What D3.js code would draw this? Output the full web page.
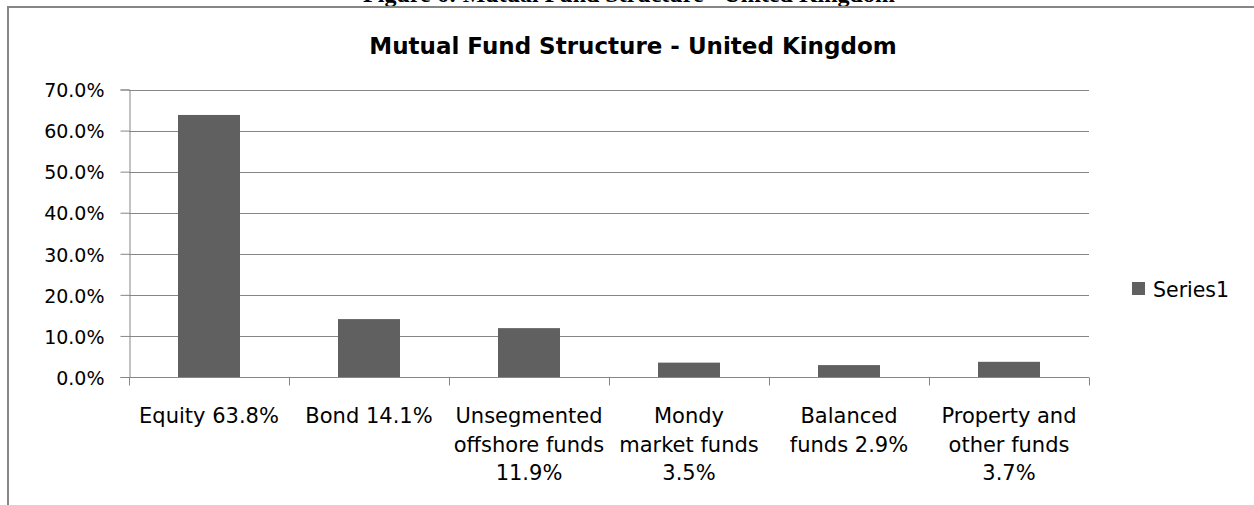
<!DOCTYPE html>
<html>
<head>
<meta charset="utf-8">
<script src="https://cdn.jsdelivr.net/npm/d3@7"></script>
<style>
html,body{margin:0;padding:0;background:#fff;}
svg{display:block;}
</style>
</head>
<body>
<svg id="chart" width="1254" height="505"></svg>
<script>
const caption = "Figure 6: Mutual Fund Structure - United Kingdom";
const chartTitle = "Mutual Fund Structure - United Kingdom";
const seriesName = "Series1";
const categories = ["Equity", "Bond", "Unsegmented", "Mondy", "Balanced", "Property"];
const categoryLabels = [
  ["Equity 63.8%"],
  ["Bond 14.1%"],
  ["Unsegmented", "offshore funds", "11.9%"],
  ["Mondy", "market funds", "3.5%"],
  ["Balanced", "funds 2.9%"],
  ["Property and", "other funds", "3.7%"]
];
const values = [63.8, 14.1, 11.9, 3.5, 2.9, 3.7];
const yTicks = [0, 10, 20, 30, 40, 50, 60, 70];

const svg = d3.select("#chart");
const font = "'DejaVu Sans', sans-serif";
const plot = {left: 129, right: 1089, top: 89.5, bottom: 377};

// caption (cut off at top, as in the source)
svg.append("text")
  .attr("x", 629).attr("y", 1.5)
  .attr("text-anchor", "middle")
  .style("font-family", "'Liberation Serif', 'Times New Roman', serif")
  .style("font-weight", "bold")
  .style("font-size", "24px")
  .attr("fill", "#000")
  .text(caption);

// chart frame
svg.append("rect")
  .attr("x", 8).attr("y", 7)
  .attr("width", 1300).attr("height", 600)
  .attr("fill", "none")
  .attr("stroke", "#868686")
  .attr("stroke-width", 2);

// title
svg.append("text")
  .attr("x", 633).attr("y", 54)
  .attr("text-anchor", "middle")
  .style("font-family", font)
  .style("font-weight", "bold")
  .style("font-size", "23px")
  .attr("fill", "#000")
  .text(chartTitle);

const x = d3.scaleBand().domain(categories).range([plot.left, plot.right]).paddingInner(0.6125).paddingOuter(0.30625);
const xb = d3.scaleBand().domain(categories).range([plot.left, plot.right]);
const y = d3.scaleLinear().domain([0, 70]).range([plot.bottom, plot.top]);

// gridlines
svg.append("g").selectAll("line").data(yTicks.filter(d => d > 0)).join("line")
  .attr("x1", plot.left).attr("x2", plot.right)
  .attr("y1", d => Math.round(y(d)) + 0.5).attr("y2", d => Math.round(y(d)) + 0.5)
  .attr("stroke", "#868686").attr("stroke-width", 1);

// y axis
const yAxis = svg.append("g")
  .attr("transform", `translate(${plot.left + 0.5},0)`)
  .call(d3.axisLeft(y).tickValues(yTicks).tickSize(9).tickPadding(16)
    .tickFormat(d => d3.format(".1f")(d) + "%"));
yAxis.attr("font-size", null).attr("font-family", null);
yAxis.select(".domain").attr("stroke", "#868686");
yAxis.selectAll(".tick line").attr("stroke", "#868686");
yAxis.selectAll(".tick text")
  .style("font-family", font).style("font-size", "19px").attr("fill", "#000")
  .attr("dy", "0.38em");

// bars
svg.append("g").selectAll("rect").data(values).join("rect")
  .attr("x", (d, i) => x(categories[i]))
  .attr("width", x.bandwidth())
  .attr("y", d => y(d))
  .attr("height", d => y(0) - y(d))
  .attr("fill", "#606060");

// x axis
const xAxisG = svg.append("g").attr("transform", `translate(0,${Math.round(plot.bottom) + 0.5})`);
xAxisG.append("line")
  .attr("x1", plot.left).attr("x2", plot.right)
  .attr("stroke", "#868686");
const bounds = categories.map(c => xb(c)).concat([plot.right]);
xAxisG.selectAll("line.tk").data(bounds).join("line").attr("class", "tk")
  .attr("x1", d => Math.round(d) + 0.5).attr("x2", d => Math.round(d) + 0.5)
  .attr("y1", 0).attr("y2", 8)
  .attr("stroke", "#868686");

// category labels
const lab = svg.append("g");
categoryLabels.forEach((lines, i) => {
  const cx = xb(categories[i]) + xb.bandwidth() / 2;
  const t = lab.append("text")
    .attr("text-anchor", "middle")
    .style("font-family", font).style("font-size", "21px").attr("fill", "#000");
  lines.forEach((ln, j) => {
    t.append("tspan").attr("x", cx).attr("y", 423 + j * 28.7).text(ln);
  });
});

// legend
svg.append("rect").attr("x", 1132).attr("y", 282).attr("width", 13).attr("height", 13).attr("fill", "#606060");
svg.append("text").attr("x", 1153).attr("y", 296.5)
  .style("font-family", font).style("font-size", "20.5px").attr("fill", "#000")
  .text(seriesName);
</script>
</body>
</html>
